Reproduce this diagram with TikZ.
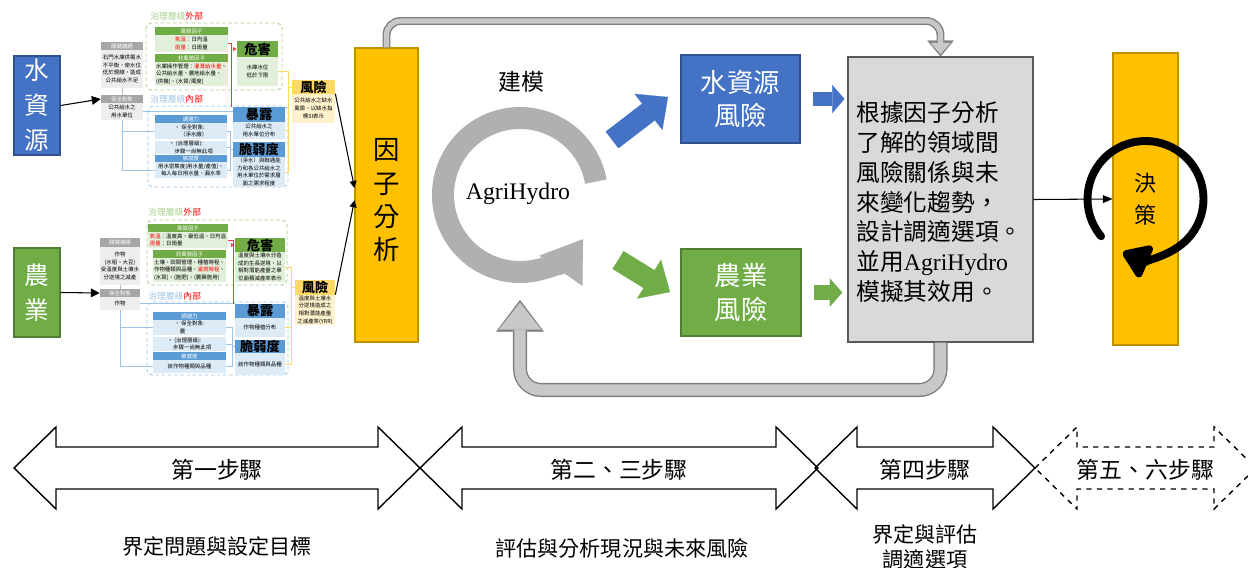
\documentclass[tikz,border=0pt]{standalone}
\usepackage{fontspec}
\setmainfont{Liberation Serif}
\newfontfamily\cjk{Noto Sans CJK TC}
\usetikzlibrary{arrows.meta,positioning}
\definecolor{wblue}{HTML}{4472C4}
\definecolor{wblueline}{HTML}{2F528F}
\definecolor{agreen}{HTML}{70AD47}
\definecolor{agreenline}{HTML}{507E32}
\definecolor{fyellow}{HTML}{FFC000}
\definecolor{fyellowline}{HTML}{BF9000}
\definecolor{boxgray}{HTML}{D9D9D9}
\definecolor{loopgray}{HTML}{B0B0B0}
\definecolor{loopdark}{HTML}{7F7F7F}
\definecolor{looplight}{HTML}{C8C8C8}
\definecolor{pgray}{HTML}{A6A6A6}
\definecolor{pgraylight}{HTML}{EDEDED}
\definecolor{pblue}{HTML}{5B9BD5}
\definecolor{pbluelight}{HTML}{DDEBF7}
\definecolor{pbluelabel}{HTML}{9DC3E6}
\definecolor{pgreenlight}{HTML}{E2EFDA}
\definecolor{pgreenlabel}{HTML}{A9D18E}
\definecolor{pyellow}{HTML}{FFD966}
\definecolor{pyellowlight}{HTML}{FFF2CC}

\begin{document}
\begin{tikzpicture}[x=0.02cm, y=-0.02cm, every node/.style={inner sep=0pt},
	cell/.style n args={4}{at={({(#1+#3)/2},{(#2+#4)/2})}, minimum width={(#3-#1)*0.02cm}, minimum height={(#4-#2)*0.02cm}},
	bigbox/.style={draw, line width=0.8pt},
	bigtxt/.style={text=white, align=center, font=\cjk\fontsize{15}{19}\selectfont},
	srctxt/.style={bigtxt, font=\cjk\fontsize{14}{20}\selectfont},
	ybox/.style={draw=fyellowline, fill=fyellow, line width=0.6pt},
	minitxt/.style={font=\cjk\fontsize{3.1}{4.4}\selectfont, align=center},
	ghd/.style={minitxt, fill=pgray, text=white},
	gbd/.style={minitxt, fill=pgraylight},
	grhd/.style={minitxt, fill=agreen, text=white},
	grbd/.style={minitxt, fill=pgreenlight, align=left},
	blhd/.style={minitxt, fill=pblue, text=white},
	blbd/.style={minitxt, fill=pbluelight},
	keyhd/.style={font=\cjk\bfseries\fontsize{7.5}{8}\selectfont},
	hzhd/.style={keyhd, fill=agreen},
	exhd/.style={keyhd, fill=pblue},
	rkhd/.style={keyhd, fill=pyellow},
	rkbd/.style={minitxt, fill=pyellowlight},
	extzone/.style={draw=pgreenlabel, dash pattern=on 2pt off 1.5pt, rounded corners=3pt, line width=0.5pt},
	intzone/.style={extzone, draw=pbluelabel},
	zonelabel/.style={anchor=west, font=\cjk\fontsize{5}{6}\selectfont},
	plink/.style={draw=gray!50, line width=0.3pt},
	blink/.style={draw=pbluelabel, line width=0.3pt},
	rlink/.style={draw=red!80, line width=0.3pt},
	ylink/.style={draw=pyellow, line width=0.4pt},
	thinarr/.style={line width=0.6pt, -{Triangle[length=5pt,width=5pt]}},
	steptxt/.style={font=\cjk\fontsize{13}{15}\selectfont},
	desc/.style={font=\cjk\fontsize{12}{14}\selectfont, align=center}]
	\fill[white] (0,0) rectangle (1248,568);
	\useasboundingbox (0,0) rectangle (1248,568);

	\node[bigbox, fill=wblue, draw=wblueline, cell={14}{56}{60}{155}] (wsrc) {};
	\node[srctxt] (wsrctxt) at (wsrc) {水\\資\\源};
	\node[bigbox, fill=agreen, draw=agreenline, cell={14}{248}{60}{337}] (asrc) {};
	\node[srctxt] (asrctxt) at (asrc) {農\\業};

	\draw[extzone] (146,23) rectangle (282,90);
	\draw[intzone] (148,106) rectangle (288,187);
	\node[zonelabel] (ext1) at (150,16) {\textcolor{pgreenlabel}{治理層級}\textcolor{red}{外部}};
	\node[zonelabel] (int1) at (150,99) {\textcolor{pbluelabel}{治理層級}\textcolor{red}{內部}};
	\node[ghd, cell={101}{42}{143}{50}] (kih1) {關鍵議題};
	\node[gbd, cell={101}{50}{143}{88}] (kib1) {石門水庫供需水\\不平衡，使水位\\低於規線，造成\\公共給水不足};
	\node[ghd, cell={101}{95}{143}{103}] (obh1) {保全對象};
	\node[gbd, cell={101}{103}{143}{120}] (obb1) {公共給水之\\用水單位};
	\node[grhd, cell={155}{27}{228}{35}] (rfh1) {風險因子};
	\node[grbd, cell={155}{35}{228}{52}] (rfb1) {\textcolor{red}{氣溫}：日均溫\\\textcolor{red}{雨量}：日雨量};
	\node[grhd, cell={155}{54}{228}{62}] (nfh1) {非風險因子};
	\node[grbd, cell={155}{62}{228}{86}] (nfb1) {水庫操作管理：\textcolor{red}{灌溉給水量}、\\公共給水量、農地給水量、\\(供機)、(水質/濁度)};
	\node[hzhd, cell={237}{41}{278}{57}] (hzh1) {危害};
	\node[grbd, align=center, cell={237}{57}{278}{86}] (hzb1) {水庫水位\\低於下限};
	\node[blhd, cell={155}{115}{227}{123}] (adh1) {調適力};
	\node[blbd, align=left, cell={155}{123}{227}{139}] (ada1) {• 保全對象:\\\quad（淨水廠）};
	\node[blbd, align=left, cell={155}{141}{227}{154}] (adb1) {• (治理層級):\\\quad 步驟一尚無此項};
	\node[blhd, cell={155}{155}{227}{162}] (seh1) {敏感度};
	\node[blbd, cell={155}{162}{227}{178}] (seb1) {用水密集度(用水量/產值)、\\每人每日用水量、漏水率};
	\node[exhd, cell={233}{107}{285}{122}] (exh1) {暴露};
	\node[blbd, cell={233}{122}{285}{139}] (exb1) {公共給水之\\用水單位分布};
	\node[exhd, cell={233}{142}{285}{157}] (vuh1) {脆弱度};
	\node[blbd, cell={233}{157}{285}{187}] (vub1) {（淨水）與聯通能\\力和各公共給水之\\用水單位於需求層\\面之需求程度};
	\node[rkhd, cell={292}{80}{335}{94}] (rkh1) {風險};
	\node[rkbd, cell={292}{94}{335}{123}] (rkb1) {公共給水之缺水\\風險，以缺水指\\標SI表示};

	\draw[extzone] (147,220) rectangle (287,285);
	\draw[intzone] (147,302) rectangle (288,375);
	\node[zonelabel] (ext2) at (148,212) {\textcolor{pgreenlabel}{治理層級}\textcolor{red}{外部}};
	\node[zonelabel] (int2) at (148,296) {\textcolor{pbluelabel}{治理層級}\textcolor{red}{內部}};
	\node[ghd, cell={100}{238}{140}{247}] (kih2) {關鍵議題};
	\node[gbd, cell={100}{247}{140}{285}] (kib2) {作物\\(水稻、大豆)\\受溫度與土壤水\\分逆境之減產};
	\node[ghd, cell={100}{289}{140}{297}] (obh2) {保全對象};
	\node[gbd, cell={100}{297}{140}{310}] (obb2) {作物};
	\node[grhd, cell={148}{224}{228}{232}] (rfh2) {風險因子};
	\node[grbd, cell={148}{232}{228}{248}] (rfb2) {\textcolor{red}{氣溫}：溫度高、最低溫、日均溫\\\textcolor{red}{雨量}：日雨量};
	\node[grhd, cell={153}{250}{226}{258}] (nfh2) {非風險因子};
	\node[grbd, cell={153}{258}{226}{282}] (nfb2) {土壤、田間管理、種植時程、\\作物種類與品種、\textcolor{red}{灌溉時程}、\\(水質)、(施肥)、(農藥施用)};
	\node[hzhd, cell={235}{238}{285}{252}] (hzh2) {危害};
	\node[grbd, align=center, cell={235}{252}{285}{282}] (hzb2) {溫度與土壤水分造\\成的生長逆境，以\\相對潛能產量之單\\位面積減產率表示};
	\node[blhd, cell={153}{312}{226}{320}] (adh2) {調適力};
	\node[blbd, align=left, cell={153}{320}{226}{335}] (ada2) {• 保全對象:\\\quad 農};
	\node[blbd, align=left, cell={153}{337}{226}{351}] (adb2) {• (治理層級):\\\quad 步驟一尚無此項};
	\node[blhd, cell={153}{352}{226}{360}] (seh2) {敏感度};
	\node[blbd, cell={153}{360}{226}{373}] (seb2) {該作物種類與品種};
	\node[exhd, cell={235}{304}{285}{318}] (exh2) {暴露};
	\node[blbd, cell={235}{318}{285}{337}] (exb2) {作物種植分布};
	\node[exhd, cell={235}{340}{285}{353}] (vuh2) {脆弱度};
	\node[blbd, cell={235}{353}{285}{375}] (vub2) {該作物種類與品種};
	\node[rkhd, cell={295}{280}{335}{295}] (rkh2) {風險};
	\node[rkbd, cell={295}{295}{335}{325}] (rkb2) {溫度與土壤水\\分逆境造成之\\相對潛能產量\\之減產率(YRR)};

	\foreach \p in {1,2}{
		\draw[plink] (kib\p.south) -- (obh\p.north);
		\draw[blink] (obb\p.south) |- (ada\p.west);
		\draw[blink] (obb\p.south) |- (seb\p.west);
		\draw[blink] (obb\p.east) -- (obb\p.east -| exh\p.west);
		\draw[rlink] (rfb\p.east) -| ([xshift=-0.6pt]exh\p.north west);
		\draw[rlink, {Triangle[length=2pt,width=2pt]}-] (hzh\p.west) -- ++(-4,0);
		\foreach \n in {hzb,exb,vub}
			\draw[ylink] (\n\p.east) -| ([xshift=-2pt]rkh\p.west) -- (rkh\p.west);
		\foreach \n in {ada,adb,seb}
			\draw[blink] (\n\p.east) -| ([xshift=-1.5pt]vuh\p.west) -- (vuh\p.west);
	}
	\draw[thinarr] (wsrc.east) -- (obh1.west);
	\draw[thinarr] (asrc.east) -- (obh2.west);

	\node[ybox, cell={355}{48}{418}{342}] (fa) {};
	\node[bigtxt, text=black] (fatxt) at ([yshift=-3pt]fa.center) {因\\子\\分\\析};
	\draw[line width=0.6pt, -{Triangle[length=4pt,width=4pt]}] (rkb1.north east) -- ([yshift=4pt]fa.west);
	\draw[line width=0.6pt, -{Triangle[length=4pt,width=4pt]}] (rkb2.north east) -- ([yshift=-3pt]fa.west);

	\node[font=\cjk\fontsize{13}{15}\selectfont] (model) at (521,82) {建模};
	\node[font=\fontsize{13.5}{16}\selectfont] (hydro) at (518,194) {AgriHydro};
	\draw[line width=12.5pt, loopgray, -{Triangle[width=30pt,length=22pt,line width=0.1pt]}] (520,195) ++(-10:77) arc[start angle=-10, end angle=-325, radius=77];

	\node[bigbox, fill=wblue, draw=wblueline, cell={681}{55}{800}{143}] (wrisk) {};
	\node[bigtxt] (wrisktxt) at (wrisk) {水資源\\風險};
	\node[bigbox, fill=agreen, draw=agreenline, cell={681}{249}{801}{336}] (arisk) {};
	\node[bigtxt] (arisktxt) at (arisk) {農業\\風險};
	\node[draw=gray!70!black, fill=boxgray, line width=0.6pt, cell={848}{57}{1033}{342}] (plan) {};
	\node[align=left, text width=3.36cm, font=\cjk\fontsize{13.5}{17}\selectfont] (plantxt) at ([yshift=-1.5pt]plan.center) {根據因子分析\\了解的領域間\\風險關係與未\\來變化趨勢，\\設計調適選項。\\並用{\rmfamily AgriHydro}\\模擬其效用。};
	\node[ybox, cell={1113}{53}{1178}{345}] (decide) {};
	\node[font=\cjk\fontsize{12.5}{18}\selectfont, align=center] (decidetxt) at (decide) {決\\策};

	\coordinate (bt) at (612,140);
	\coordinate (bh) at (668,97);
	\coordinate (gt) at (618,260);
	\coordinate (gh) at (670,292);
	\coordinate (looptop) at (0,21);
	\coordinate (loopbot) at (0,390);
	\coordinate (loopin) at (520,300);
	\draw[line width=12pt, wblue, -{Triangle[width=26pt,length=14pt,line width=0.1pt]}] (bt) -- (bh);
	\draw[line width=12pt, agreen, -{Triangle[width=26pt,length=14pt,line width=0.1pt]}] (gt) -- (gh);
	\draw[line width=8pt, wblue, shorten <=6.8pt, shorten >=1.7pt, -{Triangle[width=16pt,length=7pt,line width=0.1pt]}] (wrisk.east) -- (plan.west |- wrisk.east);
	\draw[line width=8pt, agreen, shorten <=6.8pt, shorten >=3pt, -{Triangle[width=16pt,length=7pt,line width=0.1pt]}] (arisk.east) -- (plan.west |- arisk.east);

	\draw[rounded corners=8pt, line width=4.5pt, loopdark, -{Triangle[length=9pt,width=15pt,line width=0.1pt]}] (fa.north) |- (plan.north |- looptop) -- (plan.north);
	\draw[rounded corners=8pt, line width=2.9pt, looplight, shorten >=1.3pt, -{Triangle[length=6.5pt,width=11.5pt,line width=0.1pt]}] (fa.north) |- (plan.north |- looptop) -- (plan.north);
	\draw[rounded corners=12pt, line width=8pt, loopdark, -{Triangle[length=18pt,width=27pt,line width=0.1pt]}] (plan.south) |- (loopin |- loopbot) -- (loopin);
	\draw[rounded corners=12pt, line width=6.4pt, looplight, shorten >=1.4pt, -{Triangle[length=15.5pt,width=24pt,line width=0.1pt]}] (plan.south) |- (loopin |- loopbot) -- (loopin);

	\draw[line width=0.6pt, -{Triangle[length=5.5pt,width=4.5pt]}] (plan.east) -- (decide.west);
	\draw[line width=4.5pt, line cap=round, -{Triangle[round,width=22pt,length=17pt]}] (decide.center) ++(140:58) arc[start angle=140, end angle=473, radius=58];

	\foreach \l/\r/\s/\t [count=\i] in {14/420/solid/第一步驟, 420/818/solid/第二、三步驟, 815/1035/solid/第四步驟, 1035/1256/dashed/第五、六步驟}{
		\draw[\s, line width=0.8pt] (\l,468) -- (\l+42,427) -- (\l+42,447) -- (\r-42,447) -- (\r-42,427) -- (\r,468) -- (\r-42,509) -- (\r-42,489) -- (\l+42,489) -- (\l+42,509) -- cycle;
		\node[steptxt] (step\i) at ({(\l+\r)/2},470) {\t};
	}
	\node[desc] (goal1) at (217,546) {界定問題與設定目標};
	\node[desc] (goal2) at (622,548) {評估與分析現況與未來風險};
	\node[desc] (goal3) at (925,547) {界定與評估\\調適選項};
\end{tikzpicture}
\end{document}
